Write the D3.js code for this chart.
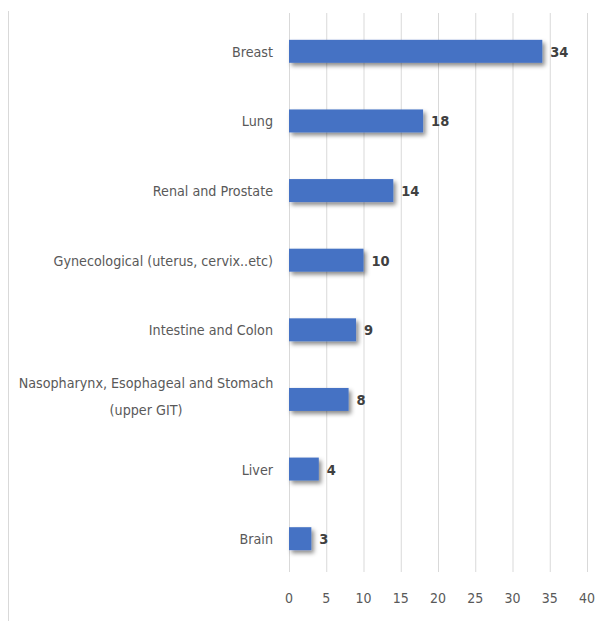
<!DOCTYPE html>
<html lang="en">
    <head>
        <meta charset="utf-8">
        <title>Cancer types</title>
        <style>
            body { margin: 0; background: #fff; }
            svg text { font-family: "Liberation Sans Narrow", "DejaVu Sans Condensed", "Open Sans", sans-serif; }
        </style>
    </head>
    <body>
        <script src="https://d3js.org/d3.v7.min.js"></script>
        <svg id="chart"></svg>
        <script>
            const width = 599;
            const height = 621;
            const categories = ["Breast", "Lung", "Renal and Prostate", "Gynecological (uterus, cervix..etc)",
                "Intestine and Colon", "Nasopharynx, Esophageal and Stomach|(upper GIT)", "Liver", "Brain"];
            const values = [34, 18, 14, 10, 9, 8, 4, 3];
            const ticks = [0, 5, 10, 15, 20, 25, 30, 35, 40];

            const margin = {top: 13, left: 289, right: 12, bottom: 48};

            const svg = d3.select("#chart")
                .attr("width", width)
                .attr("height", height)

            const defs = svg.append("defs")
            const shadow = defs.append("filter")
                .attr("id", "shadow")
                .attr("x", "-20%").attr("y", "-40%")
                .attr("width", "150%").attr("height", "200%")
            shadow.append("feDropShadow")
                .attr("dx", 2.5).attr("dy", 3)
                .attr("stdDeviation", 2.2)
                .attr("flood-color", "#000")
                .attr("flood-opacity", 0.45)

            // left frame line
            svg.append("line")
                .attr("x1", 8.5).attr("x2", 8.5)
                .attr("y1", 11).attr("y2", height)
                .attr("stroke", "#d9d9d9")

            const x = d3.scaleLinear()
                .domain([0, 40])
                .range([margin.left, 587])

            const y = d3.scaleBand()
                .domain(categories)
                .range([16.5, 573.5])
                .paddingInner(0.67)
                .paddingOuter(0.335)

            // gridlines
            svg.selectAll("line.grid")
                .data(ticks)
                .enter()
                .append("line")
                .attr("class", "grid")
                .attr("x1", d => x(d) + 0.5)
                .attr("x2", d => x(d) + 0.5)
                .attr("y1", margin.top)
                .attr("y2", 572)
                .attr("stroke", "#d9d9d9")

            svg.selectAll("text.tick")
                .data(ticks)
                .enter()
                .append("text")
                .attr("class", "tick")
                .attr("x", d => x(d))
                .attr("y", 603)
                .attr("text-anchor", "middle")
                .attr("font-size", "14px")
                .attr("fill", "#595959")
                .text(d => d)

            svg.selectAll("rect.bar")
                .data(values)
                .enter()
                .append("rect")
                .attr("class", "bar")
                .attr("x", x(0))
                .attr("y", (d, i) => y(categories[i]))
                .attr("width", d => x(d) - x(0))
                .attr("height", y.bandwidth())
                .attr("fill", "#4472c4")
                .attr("filter", "url(#shadow)")

            svg.selectAll("text.value")
                .data(values)
                .enter()
                .append("text")
                .attr("class", "value")
                .attr("x", d => x(d) + 8)
                .attr("y", (d, i) => y(categories[i]) + y.bandwidth() / 2 + 5.5)
                .attr("font-size", "14.5px")
                .attr("font-weight", "bold")
                .attr("fill", "#404040")
                .text(d => d)

            svg.selectAll("text.cat")
                .data(categories)
                .enter()
                .append("text")
                .attr("class", "cat")
                .attr("y", d => y(d) + y.bandwidth() / 2)
                .attr("font-size", "14.2px")
                .attr("fill", "#595959")
                .attr("text-anchor", d => d.includes("|") ? "middle" : "end")
                .each(function(d){
                    const lines = d.split("|")
                    const text = d3.select(this)
                    lines.forEach((line, i) => {
                        text.append("tspan")
                            .attr("x", lines.length > 1 ? 146 : 273)
                            .attr("dy", i === 0 ? (lines.length > 1 ? -11 : 5.5) : 27)
                            .text(line)
                    })
                })
        </script>
    </body>
</html>
